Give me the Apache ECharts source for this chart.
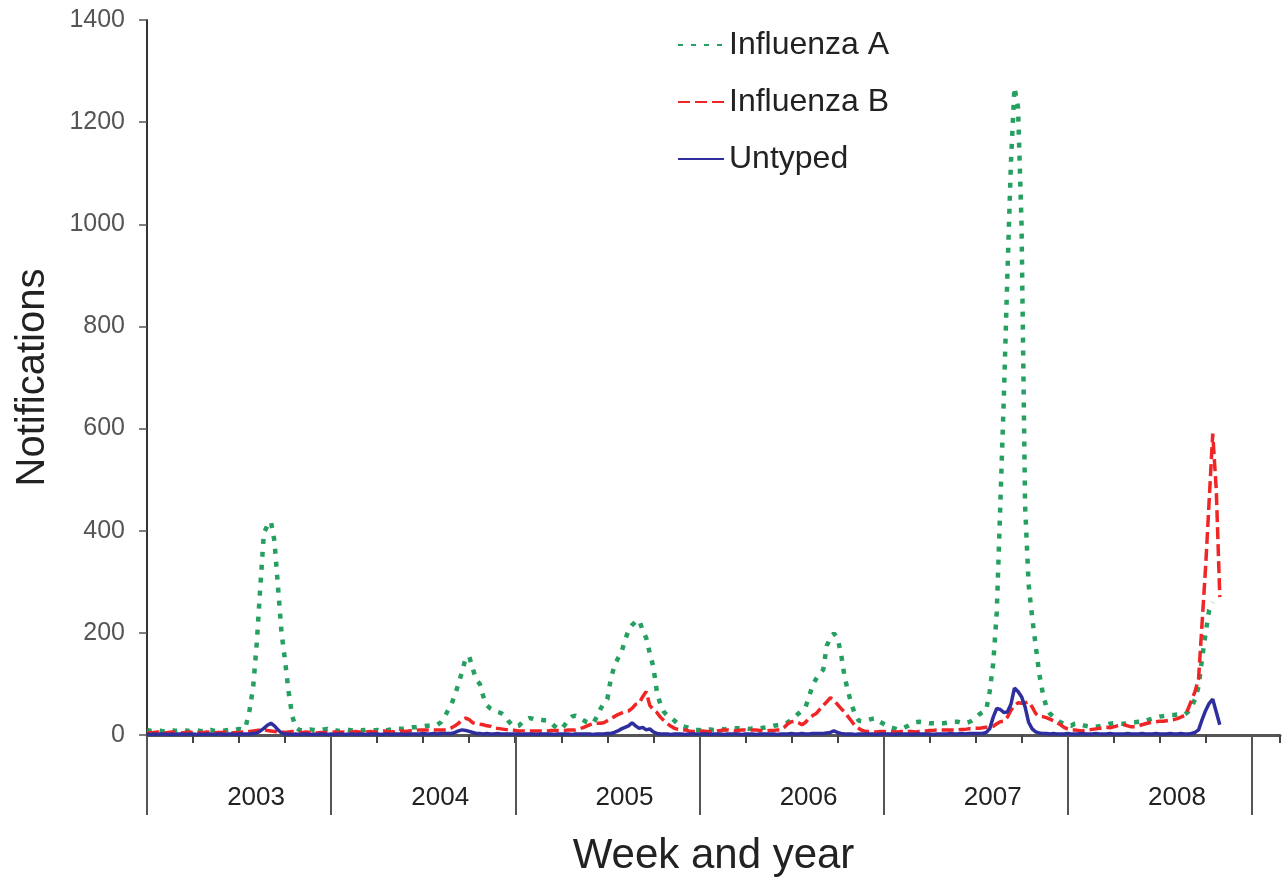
<!DOCTYPE html>
<html><head><meta charset="utf-8">
<script src="https://cdn.jsdelivr.net/npm/echarts@6/dist/echarts.min.js"></script>
<style>html,body{margin:0;padding:0;background:#fff}#c{width:1285px;height:886px}</style>
</head><body><div id="c"></div>
<script>
// ---- data (weekly notifications, 52 weeks per year) ----
const years = ['2003', '2004', '2005', '2006', '2007', '2008'];
const seriesNames = ['Influenza A', 'Influenza B', 'Untyped'];
const axisWeeks = 320;
const yMax = 1400;
const yStep = 200;

const influenzaA_2003 = [10,8,9,10,8,7,9,10,8,9,11,9,8,10,9,8,7,9,10,8,9,8,9,10,9,10,12,10,20,50,95,180,290,395,410,418,380,290,200,145,85,38,15,10,9,10,11,10,9,10,11,12];
const influenzaA_2004 = [9,10,8,9,11,10,9,8,10,9,11,10,9,10,8,9,10,11,10,12,12,13,14,15,15,16,17,18,18,19,20,25,35,48,60,80,100,125,150,154,130,108,100,75,58,52,48,45,43,38,28,20];
const influenzaA_2005 = [16,18,25,30,33,32,30,30,29,29,25,18,13,11,20,30,36,38,34,30,26,24,23,35,50,62,70,110,135,150,162,185,206,215,222,225,205,190,160,134,85,60,45,38,34,28,22,18,16,14,12,10];
const influenzaA_2006 = [10,9,10,11,10,10,12,11,12,13,13,13,13,13,12,13,13,13,14,15,16,18,19,20,22,25,30,36,42,48,55,75,98,110,120,128,175,190,199,190,160,115,85,60,40,28,27,28,30,32,33,26];
const influenzaA_2007 = [22,18,15,13,11,12,15,18,22,25,26,25,24,23,23,23,23,23,24,25,26,26,24,23,25,28,33,40,45,48,85,140,240,450,660,900,1120,1268,1230,1000,450,295,230,175,120,82,55,42,36,30,25,22];
const influenzaA_2008 = [20,18,22,23,20,18,17,16,16,17,18,20,22,23,23,22,22,24,25,25,26,26,28,30,32,34,36,37,38,39,39,40,40,40,45,55,70,95,150,200,245,260];

const influenzaB_2003 = [5,4,5,6,5,4,5,6,5,5,4,5,6,5,4,5,5,6,5,4,5,5,6,5,4,5,5,6,6,7,8,9,10,10,9,8,7,6,6,5,6,7,6,5,5,6,5,5,4,5,5,5];
const influenzaB_2004 = [5,6,5,6,5,5,6,7,6,5,6,7,6,6,7,8,7,6,7,8,8,7,8,9,9,10,10,10,10,10,10,10,10,11,14,18,23,30,33,30,24,22,21,20,18,17,14,13,12,11,10,10];
const influenzaB_2005 = [9,8,8,8,8,8,8,8,8,8,9,9,9,9,9,10,10,10,12,14,17,20,22,23,23,24,28,32,36,40,43,46,47,52,60,62,75,85,58,50,44,35,28,22,17,13,11,10,10,8,7,7];
const influenzaB_2006 = [7,8,7,7,7,8,9,10,10,9,8,9,10,10,9,10,10,9,8,8,9,9,10,10,15,22,26,27,24,20,25,33,38,42,50,58,65,73,68,60,52,45,36,27,18,13,9,7,7,7,6,7];
const influenzaB_2007 = [7,6,7,6,6,7,6,7,7,6,7,8,8,9,9,10,10,10,10,10,10,10,11,11,12,12,13,13,14,15,16,17,22,26,27,35,48,58,63,62,63,65,55,42,37,36,34,31,28,24,20,15];
const influenzaB_2008 = [12,10,10,9,8,9,10,11,12,13,14,15,14,16,18,20,20,18,16,16,18,20,22,24,25,26,27,27,28,29,30,32,35,38,50,68,85,110,220,330,460,590,480,270];

const untyped_2003 = [2,1,2,1,2,2,1,2,1,2,2,1,2,2,1,2,1,2,2,1,2,2,1,2,2,1,2,2,2,2,3,4,8,13,19,23,18,10,4,2,2,1,2,1,2,2,1,2,1,2,2,1];
const untyped_2004 = [2,1,2,2,1,2,2,1,2,2,1,2,2,2,1,2,2,1,2,2,2,1,2,2,2,2,3,2,2,3,2,3,3,3,3,5,8,10,9,7,5,3,3,2,3,2,2,3,2,2,2,2];
const untyped_2005 = [2,2,1,2,2,2,1,2,2,2,2,1,2,2,2,2,1,2,2,2,2,2,1,2,2,2,3,3,5,8,12,15,18,24,18,13,15,10,12,6,3,2,2,2,1,2,2,2,1,2,2,2];
const untyped_2006 = [2,2,2,1,2,2,2,1,2,2,2,2,1,2,2,2,1,2,2,2,2,2,1,2,2,2,3,2,2,3,2,2,3,3,3,3,4,5,8,5,3,2,2,2,1,2,2,2,2,2,1,2];
const untyped_2007 = [2,2,2,1,2,2,2,2,1,2,2,2,2,2,1,2,2,2,2,3,2,2,3,2,3,3,3,3,3,5,12,35,52,50,44,45,60,92,85,75,55,25,12,6,4,3,3,2,3,2,2,2];
const untyped_2008 = [3,2,2,2,3,2,2,2,3,2,2,2,3,2,2,2,2,3,2,2,2,3,2,2,2,3,2,2,2,3,2,2,3,2,2,3,5,10,30,48,62,70,45,20];

// ---- build series data ----
const influenzaA = [].concat(influenzaA_2003, influenzaA_2004, influenzaA_2005, influenzaA_2006, influenzaA_2007, influenzaA_2008);
const influenzaB = [].concat(influenzaB_2003, influenzaB_2004, influenzaB_2005, influenzaB_2006, influenzaB_2007, influenzaB_2008);
const untyped = [].concat(untyped_2003, untyped_2004, untyped_2005, untyped_2006, untyped_2007, untyped_2008);
const toPoints = arr => arr.map((v, i) => [i, v]);

const FONT = '"Liberation Sans", Arial, sans-serif';
const chart = echarts.init(document.getElementById('c'), null, {renderer: 'canvas'});
chart.setOption({
  animation: false,
  backgroundColor: '#ffffff',
  textStyle: {fontFamily: FONT},
  legend: {
    orient: 'vertical', left: 672, top: 24, itemWidth: 46, itemHeight: 14, itemGap: 25,
    data: seriesNames,
    itemStyle: {opacity: 0},
    textStyle: {fontSize: 32, color: '#222', fontFamily: FONT}
  },
  grid: [
    {left: 147, right: 5, top: 20, bottom: 151},
    {left: 147, right: 33, top: 20, bottom: 151}
  ],
  xAxis: [
    {
      type: 'value', gridIndex: 0, min: 0, max: axisWeeks, interval: 13,
      axisLine: {show: true, onZero: false, lineStyle: {color: '#555', width: 3}},
      axisTick: {show: true, length: 8, lineStyle: {color: '#444', width: 2}},
      axisLabel: {show: false}, splitLine: {show: false},
      name: 'Week and year', nameLocation: 'middle', nameGap: 100,
      nameTextStyle: {fontSize: 42, color: '#222', fontFamily: FONT}
    },
    {
      type: 'category', gridIndex: 1, data: years, boundaryGap: true,
      axisLine: {show: false},
      axisTick: {show: true, length: 80, interval: 0, lineStyle: {color: '#555', width: 2}},
      axisLabel: {interval: 0, margin: 50, fontSize: 26, color: '#222', fontFamily: FONT, padding: [0, 0, 0, 34]},
      splitLine: {show: false}
    }
  ],
  yAxis: [
    {
      type: 'value', gridIndex: 0, min: 0, max: yMax, interval: yStep,
      axisLine: {show: true, lineStyle: {color: '#333', width: 2}},
      axisTick: {show: true, length: 8, lineStyle: {color: '#555', width: 1.5}},
      axisLabel: {fontSize: 25, color: '#555', margin: 22, fontFamily: FONT, formatter: v => String(v)},
      splitLine: {show: false},
      name: 'Notifications', nameLocation: 'middle', nameGap: 94, nameRotate: 90,
      nameTextStyle: {fontSize: 40, color: '#222', fontFamily: FONT}
    },
    {type: 'value', gridIndex: 1, show: false, min: 0, max: yMax}
  ],
  series: [
    {
      name: seriesNames[0], type: 'line', xAxisIndex: 0, yAxisIndex: 0, data: toPoints(influenzaA),
      showSymbol: false, symbol: 'none',
      itemStyle: {color: '#25a060'},
      lineStyle: {color: '#25a060', width: 4.5, type: [5, 8]}
    },
    {
      name: seriesNames[1], type: 'line', xAxisIndex: 0, yAxisIndex: 0, data: toPoints(influenzaB),
      showSymbol: false, symbol: 'none',
      itemStyle: {color: '#f02525'},
      lineStyle: {color: '#f02525', width: 3.5, type: [12, 5]}
    },
    {
      name: seriesNames[2], type: 'line', xAxisIndex: 0, yAxisIndex: 0, data: toPoints(untyped),
      showSymbol: false, symbol: 'none',
      itemStyle: {color: '#2e2e9e'},
      lineStyle: {color: '#2e2e9e', width: 3.5, type: 'solid'}
    }
  ]
});
</script>
</body></html>
